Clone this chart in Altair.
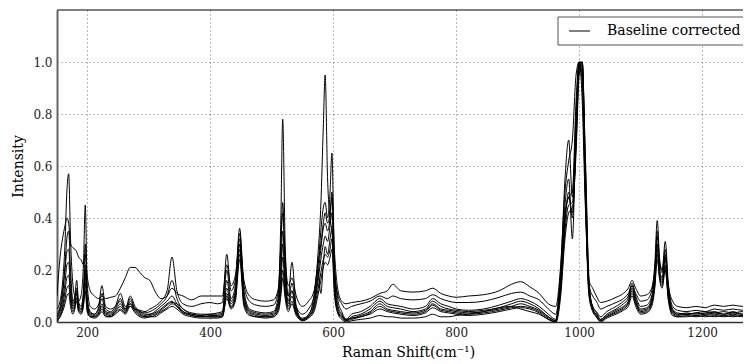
import altair as alt
import pandas as pd

# Raman shift grid (cm^-1)
raman_shift = [
    151, 156, 160, 164, 167, 170, 173, 177, 180, 183,
    186, 190, 194, 197, 200, 205, 212, 219, 224, 230,
    238, 246, 254, 262, 270, 278, 286, 294, 302, 310,
    320, 330, 338, 346, 356, 370, 385, 400, 412, 420,
    427, 434, 441, 448, 455, 464, 475, 490, 503, 511,
    515, 518, 522, 527, 533, 540, 550, 560, 569, 575,
    580, 584, 587, 591, 595, 598, 602, 608, 614, 621,
    630, 645, 660, 676, 688, 697, 710, 730, 750, 762,
    775, 788, 800, 820, 845, 870, 890, 905, 920, 935,
    950, 962, 970, 977, 983, 989, 995, 1000, 1005, 1010,
    1016, 1022, 1028, 1035, 1045, 1060, 1072, 1080, 1086, 1092,
    1100, 1110, 1118, 1123, 1127, 1131, 1135, 1140, 1145, 1152,
    1160, 1175, 1190, 1205, 1220, 1235, 1250, 1265, 1280, 1290,
]

spectrum_1 = [
    0.10, 0.25, 0.32, 0.37, 0.40, 0.38, 0.30, 0.285, 0.28, 0.27,
    0.25, 0.24, 0.22, 0.26, 0.18, 0.12, 0.10, 0.09, 0.10, 0.09,
    0.095, 0.10, 0.13, 0.17, 0.21, 0.21, 0.19, 0.17, 0.16, 0.12,
    0.09, 0.10, 0.13, 0.11, 0.10, 0.085, 0.10, 0.10, 0.10, 0.10,
    0.22, 0.14, 0.18, 0.30, 0.16, 0.10, 0.085, 0.08, 0.085, 0.13,
    0.30, 0.42, 0.25, 0.14, 0.17, 0.10, 0.06, 0.08, 0.12, 0.22,
    0.30, 0.38, 0.42, 0.38, 0.42, 0.50, 0.28, 0.12, 0.08, 0.07,
    0.075, 0.08, 0.09, 0.11, 0.12, 0.145, 0.12, 0.115, 0.12, 0.13,
    0.11, 0.10, 0.095, 0.10, 0.105, 0.12, 0.145, 0.155, 0.135, 0.11,
    0.07, 0.06, 0.22, 0.50, 0.62, 0.70, 0.95, 1.0, 0.85, 0.45,
    0.16, 0.13, 0.10, 0.075, 0.08, 0.095, 0.11, 0.13, 0.16, 0.13,
    0.10, 0.105, 0.13, 0.20, 0.30, 0.22, 0.20, 0.25, 0.14, 0.08,
    0.06, 0.055, 0.06, 0.055, 0.065, 0.06, 0.065, 0.06, 0.065, 0.06,
]

spectrum_2 = [
    0.05, 0.08, 0.15, 0.30, 0.50, 0.57, 0.32, 0.14, 0.10, 0.09,
    0.08, 0.10, 0.22, 0.45, 0.15, 0.06, 0.05, 0.07, 0.14, 0.06,
    0.05, 0.06, 0.08, 0.05, 0.06, 0.05, 0.045, 0.04, 0.05, 0.06,
    0.08, 0.12, 0.25, 0.12, 0.07, 0.06, 0.07, 0.075, 0.07, 0.075,
    0.26, 0.12, 0.16, 0.36, 0.14, 0.08, 0.065, 0.06, 0.065, 0.12,
    0.40, 0.78, 0.30, 0.10, 0.12, 0.06, 0.03, 0.05, 0.10, 0.25,
    0.45, 0.75, 0.95, 0.55, 0.40, 0.35, 0.20, 0.10, 0.07, 0.05,
    0.06, 0.07, 0.08, 0.10, 0.09, 0.10, 0.09, 0.085, 0.09, 0.105,
    0.09, 0.08, 0.075, 0.075, 0.08, 0.095, 0.11, 0.115, 0.10, 0.085,
    0.05, 0.03, 0.18, 0.42, 0.48, 0.50, 0.85, 1.0, 0.92, 0.50,
    0.14, 0.10, 0.08, 0.05, 0.06, 0.075, 0.09, 0.11, 0.14, 0.11,
    0.08, 0.085, 0.12, 0.22, 0.39, 0.24, 0.20, 0.31, 0.15, 0.06,
    0.045, 0.04, 0.045, 0.04, 0.05, 0.045, 0.05, 0.045, 0.05, 0.045,
]

spectrum_3 = [
    0.02, 0.05, 0.10, 0.22, 0.32, 0.35, 0.20, 0.08, 0.10, 0.16,
    0.08, 0.06, 0.12, 0.30, 0.10, 0.04, 0.03, 0.06, 0.11, 0.05,
    0.04, 0.06, 0.11, 0.06, 0.07, 0.05, 0.04, 0.035, 0.04, 0.05,
    0.07, 0.10, 0.16, 0.09, 0.05, 0.035, 0.03, 0.03, 0.035, 0.04,
    0.20, 0.09, 0.14, 0.34, 0.12, 0.05, 0.04, 0.035, 0.04, 0.10,
    0.30, 0.46, 0.22, 0.10, 0.23, 0.06, 0.01, 0.03, 0.08, 0.20,
    0.35, 0.44, 0.46, 0.40, 0.50, 0.65, 0.25, 0.08, 0.04, 0.01,
    0.03, 0.04, 0.06, 0.09, 0.07, 0.065, 0.06, 0.05, 0.06, 0.09,
    0.07, 0.06, 0.05, 0.045, 0.05, 0.065, 0.08, 0.09, 0.08, 0.06,
    0.03, 0.01, 0.20, 0.55, 0.70, 0.48, 0.80, 1.0, 1.0, 0.55,
    0.12, 0.06, 0.04, 0.02, 0.04, 0.06, 0.08, 0.10, 0.15, 0.10,
    0.06, 0.065, 0.10, 0.20, 0.35, 0.22, 0.19, 0.28, 0.13, 0.05,
    0.035, 0.03, 0.035, 0.04, 0.035, 0.04, 0.035, 0.04, 0.035, 0.04,
]

spectrum_4 = [
    0.03, 0.06, 0.12, 0.20, 0.27, 0.28, 0.16, 0.07, 0.09, 0.13,
    0.07, 0.05, 0.10, 0.22, 0.08, 0.035, 0.03, 0.05, 0.09, 0.04,
    0.035, 0.05, 0.09, 0.05, 0.10, 0.06, 0.04, 0.03, 0.03, 0.04,
    0.06, 0.08, 0.10, 0.07, 0.04, 0.03, 0.025, 0.03, 0.03, 0.035,
    0.16, 0.08, 0.12, 0.32, 0.10, 0.045, 0.035, 0.03, 0.035, 0.08,
    0.22, 0.35, 0.18, 0.08, 0.15, 0.05, 0.005, 0.02, 0.07, 0.17,
    0.28, 0.36, 0.38, 0.35, 0.40, 0.48, 0.20, 0.06, 0.03, 0.005,
    0.02, 0.03, 0.05, 0.08, 0.06, 0.055, 0.05, 0.04, 0.05, 0.08,
    0.06, 0.05, 0.045, 0.04, 0.045, 0.055, 0.07, 0.08, 0.07, 0.05,
    0.02, 0.005, 0.18, 0.45, 0.55, 0.32, 0.75, 1.0, 0.98, 0.52,
    0.11, 0.05, 0.03, 0.01, 0.03, 0.05, 0.07, 0.09, 0.14, 0.09,
    0.05, 0.055, 0.09, 0.18, 0.33, 0.20, 0.17, 0.26, 0.12, 0.045,
    0.03, 0.035, 0.03, 0.035, 0.04, 0.03, 0.035, 0.03, 0.04, 0.035,
]

spectrum_5 = [
    0.02, 0.04, 0.08, 0.15, 0.22, 0.23, 0.12, 0.06, 0.08, 0.12,
    0.06, 0.045, 0.09, 0.20, 0.07, 0.03, 0.025, 0.04, 0.07, 0.035,
    0.03, 0.045, 0.07, 0.045, 0.09, 0.05, 0.035, 0.025, 0.03, 0.035,
    0.05, 0.07, 0.08, 0.06, 0.035, 0.025, 0.02, 0.025, 0.025, 0.03,
    0.13, 0.07, 0.11, 0.30, 0.09, 0.04, 0.03, 0.025, 0.03, 0.07,
    0.18, 0.30, 0.15, 0.07, 0.12, 0.04, 0.01, 0.02, 0.06, 0.15,
    0.24, 0.30, 0.33, 0.31, 0.37, 0.42, 0.18, 0.05, 0.025, 0.01,
    0.015, 0.025, 0.04, 0.07, 0.05, 0.045, 0.04, 0.035, 0.045, 0.07,
    0.05, 0.045, 0.04, 0.035, 0.04, 0.05, 0.06, 0.07, 0.06, 0.045,
    0.02, 0.005, 0.16, 0.40, 0.48, 0.42, 0.70, 0.98, 1.0, 0.60,
    0.13, 0.06, 0.035, 0.01, 0.025, 0.045, 0.06, 0.08, 0.13, 0.08,
    0.045, 0.05, 0.08, 0.16, 0.30, 0.19, 0.16, 0.24, 0.11, 0.04,
    0.03, 0.03, 0.035, 0.03, 0.035, 0.03, 0.04, 0.03, 0.035, 0.03,
]

spectrum_6 = [
    0.01, 0.03, 0.06, 0.12, 0.17, 0.18, 0.10, 0.05, 0.07, 0.11,
    0.05, 0.04, 0.08, 0.18, 0.06, 0.025, 0.02, 0.035, 0.06, 0.03,
    0.025, 0.04, 0.06, 0.04, 0.08, 0.045, 0.03, 0.02, 0.025, 0.03,
    0.045, 0.065, 0.075, 0.07, 0.05, 0.03, 0.025, 0.02, 0.02, 0.025,
    0.11, 0.06, 0.10, 0.28, 0.08, 0.035, 0.025, 0.02, 0.025, 0.06,
    0.15, 0.25, 0.13, 0.06, 0.10, 0.035, 0.015, 0.025, 0.10, 0.20,
    0.11, 0.22, 0.29, 0.26, 0.32, 0.36, 0.15, 0.04, 0.02, 0.01,
    0.015, 0.02, 0.035, 0.06, 0.045, 0.04, 0.035, 0.03, 0.04, 0.065,
    0.045, 0.04, 0.035, 0.03, 0.035, 0.045, 0.055, 0.06, 0.055, 0.04,
    0.015, 0.0, 0.14, 0.38, 0.50, 0.40, 0.72, 1.0, 0.95, 0.48,
    0.10, 0.04, 0.02, 0.005, 0.02, 0.04, 0.055, 0.075, 0.12, 0.075,
    0.04, 0.045, 0.075, 0.15, 0.28, 0.18, 0.15, 0.22, 0.10, 0.035,
    0.025, 0.03, 0.025, 0.03, 0.03, 0.025, 0.03, 0.025, 0.03, 0.025,
]

spectrum_7 = [
    0.01, 0.02, 0.05, 0.09, 0.13, 0.14, 0.08, 0.04, 0.06, 0.09,
    0.045, 0.035, 0.07, 0.15, 0.05, 0.02, 0.02, 0.03, 0.05, 0.025,
    0.02, 0.035, 0.05, 0.035, 0.07, 0.04, 0.025, 0.02, 0.02, 0.025,
    0.04, 0.055, 0.07, 0.06, 0.04, 0.025, 0.02, 0.02, 0.02, 0.02,
    0.10, 0.055, 0.09, 0.26, 0.07, 0.03, 0.02, 0.02, 0.02, 0.05,
    0.12, 0.20, 0.11, 0.05, 0.08, 0.03, 0.01, 0.02, 0.05, 0.12,
    0.19, 0.24, 0.26, 0.25, 0.28, 0.32, 0.13, 0.035, 0.015, 0.005,
    0.01, 0.02, 0.03, 0.05, 0.04, 0.035, 0.03, 0.025, 0.035, 0.055,
    0.04, 0.035, 0.03, 0.025, 0.03, 0.04, 0.05, 0.055, 0.05, 0.035,
    0.01, 0.0, 0.12, 0.35, 0.45, 0.46, 0.68, 0.97, 1.0, 0.62,
    0.15, 0.05, 0.025, 0.005, 0.02, 0.035, 0.05, 0.07, 0.11, 0.07,
    0.035, 0.04, 0.07, 0.14, 0.26, 0.17, 0.14, 0.21, 0.09, 0.03,
    0.02, 0.025, 0.02, 0.025, 0.02, 0.025, 0.02, 0.025, 0.02, 0.025,
]

spectrum_8 = [
    0.0, 0.02, 0.04, 0.07, 0.10, 0.11, 0.06, 0.03, 0.05, 0.08,
    0.04, 0.03, 0.06, 0.12, 0.04, 0.02, 0.015, 0.025, 0.04, 0.02,
    0.02, 0.03, 0.045, 0.03, 0.06, 0.035, 0.02, 0.015, 0.02, 0.02,
    0.035, 0.05, 0.06, 0.05, 0.03, 0.02, 0.015, 0.015, 0.015, 0.02,
    0.09, 0.05, 0.08, 0.24, 0.06, 0.025, 0.02, 0.015, 0.02, 0.04,
    0.10, 0.17, 0.09, 0.04, 0.07, 0.025, 0.005, 0.015, 0.04, 0.10,
    0.16, 0.21, 0.23, 0.22, 0.25, 0.28, 0.11, 0.03, 0.01, 0.0,
    0.005, 0.01, 0.015, 0.025, 0.02, 0.02, 0.015, 0.015, 0.02, 0.03,
    0.02, 0.02, 0.025, 0.03, 0.04, 0.055, 0.06, 0.05, 0.04, 0.03,
    0.01, 0.0, 0.10, 0.32, 0.42, 0.44, 0.65, 0.95, 1.0, 0.65,
    0.17, 0.05, 0.02, 0.0, 0.015, 0.03, 0.045, 0.06, 0.10, 0.06,
    0.03, 0.035, 0.06, 0.13, 0.24, 0.16, 0.13, 0.20, 0.085, 0.025,
    0.02, 0.02, 0.025, 0.02, 0.025, 0.02, 0.025, 0.02, 0.025, 0.02,
]

spectra = {
    "s1": spectrum_1, "s2": spectrum_2, "s3": spectrum_3, "s4": spectrum_4,
    "s5": spectrum_5, "s6": spectrum_6, "s7": spectrum_7, "s8": spectrum_8,
}

x_ticks = [200, 400, 600, 800, 1000, 1200]
y_ticks = [0.0, 0.2, 0.4, 0.6, 0.8, 1.0]
legend_label = "Baseline corrected"

rows = []
for name, ys in spectra.items():
    for x, y in zip(raman_shift, ys):
        rows.append({"shift": x, "intensity": y, "spectrum": name})
df = pd.DataFrame(rows)

W, H = 686, 312
X_MIN = 151
X_MAX = X_MIN + W / 0.615
FONT = "'DejaVu Serif', 'Liberation Serif', serif"

lines = alt.Chart(df).mark_line(
    color="black", strokeWidth=1, interpolate="monotone", clip=True
).encode(
    x=alt.X("shift:Q",
            scale=alt.Scale(domain=[X_MIN, X_MAX], nice=False, zero=False),
            axis=alt.Axis(values=x_ticks, format="d", title="Raman Shift(cm\u207b\u00b9)",
                          titleX=351, titleY=30, titleBaseline="middle",
                          labelPadding=5, domainColor="#333", domainWidth=1.5)),
    y=alt.Y("intensity:Q",
            scale=alt.Scale(domain=[0, 1.2], nice=False),
            axis=alt.Axis(values=y_ticks, format=".1f", title="Intensity",
                          titleX=-39, titleY=156, titleAngle=270,
                          titleAlign="center", titleBaseline="middle",
                          labelPadding=5, domainColor="#666", domainWidth=2)),
    detail="spectrum:N",
)

one = pd.DataFrame({"k": [0]})

top_spine = alt.Chart(one).mark_rule(color="black", strokeWidth=1).encode(
    x=alt.value(0), x2=alt.value(W), y=alt.value(0)
)

legend_box = alt.Chart(one).mark_rect(fill="white", stroke="#555", strokeWidth=1).encode(
    x=alt.value(501), x2=alt.value(720), y=alt.value(7), y2=alt.value(35)
)
legend_line = alt.Chart(one).mark_rule(color="black", strokeWidth=1).encode(
    x=alt.value(512), x2=alt.value(533), y=alt.value(21)
)
legend_text = alt.Chart(one).mark_text(
    align="left", baseline="middle", font=FONT, fontSize=14, color="black"
).encode(x=alt.value(550), y=alt.value(21), text=alt.value(legend_label))

chart = alt.layer(lines, top_spine, legend_box, legend_line, legend_text).properties(
    width=W, height=H,
    autosize=alt.AutoSizeParams(type="none"),
    padding={"left": 49, "top": 2, "right": 0, "bottom": 42},
).configure_view(stroke=None).configure_axis(
    labelFont=FONT, labelFontSize=12, labelColor="#222",
    titleFont=FONT, titleFontSize=14, titleFontWeight="normal", titleColor="black",
    grid=True, gridColor="black", gridOpacity=0.55, gridDash=[1, 3], gridWidth=1,
    ticks=False,
)

chart.save("out.html", embed_options={"renderer": "svg", "actions": False})
